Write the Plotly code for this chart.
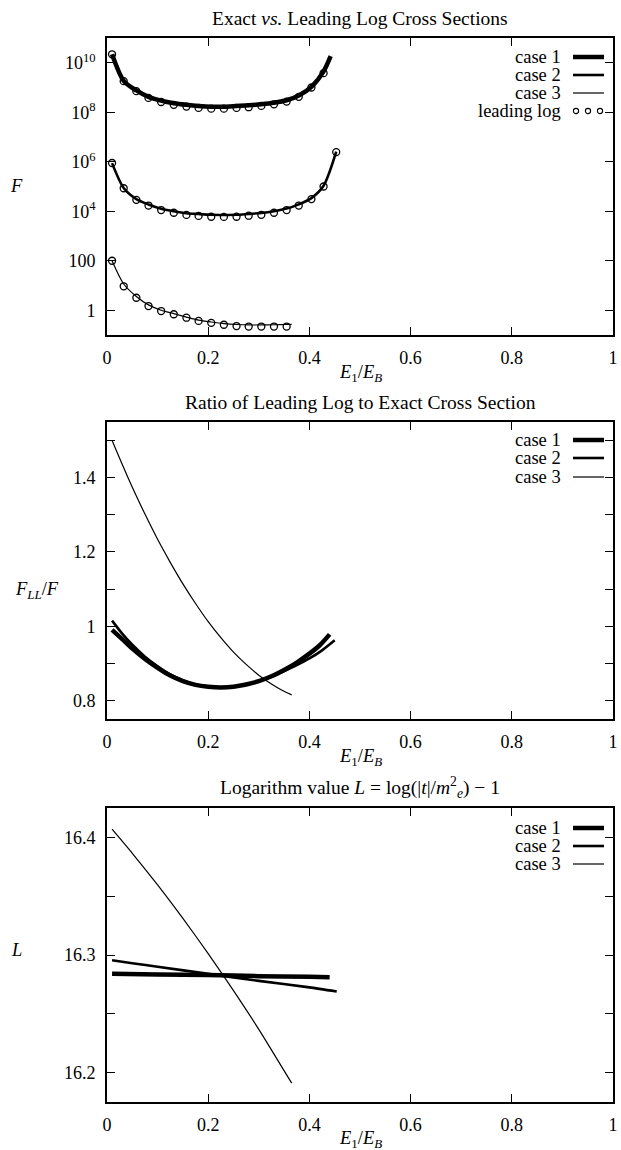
import plotly.graph_objects as go

# ---------------- data ----------------
# Top panel: leading-log points (x, F)
ll_x_1 = [0.01, 0.033, 0.058, 0.082, 0.107, 0.132, 0.157, 0.181, 0.206, 0.231,
          0.256, 0.280, 0.305, 0.330, 0.355, 0.379, 0.404, 0.428]
ll_F_1 = [2.2e10, 1.8e9, 7.1e8, 3.8e8, 2.6e8, 2.0e8, 1.7e8, 1.5e8, 1.4e8, 1.4e8,
          1.5e8, 1.6e8, 1.8e8, 2.1e8, 2.7e8, 4.2e8, 1.0e9, 3.8e9]
ll_x_2 = [0.01, 0.033, 0.058, 0.082, 0.107, 0.132, 0.157, 0.181, 0.206, 0.231,
          0.256, 0.280, 0.305, 0.330, 0.355, 0.379, 0.404, 0.428, 0.453]
ll_F_2 = [8.9e5, 8.5e4, 2.9e4, 1.7e4, 1.12e4, 8.7e3, 7.1e3, 6.5e3, 6.0e3, 5.9e3,
          6.0e3, 6.6e3, 7.2e3, 8.7e3, 1.12e4, 1.7e4, 3.1e4, 1.0e5, 2.45e6]
ll_x_3 = [0.01, 0.033, 0.058, 0.082, 0.107, 0.132, 0.157, 0.181, 0.206, 0.231,
          0.256, 0.280, 0.305, 0.330, 0.355]
ll_F_3 = [100, 9.3, 3.2, 1.48, 0.93, 0.69, 0.50, 0.37, 0.31, 0.26,
          0.23, 0.22, 0.22, 0.22, 0.22]

# Top panel: exact cross sections
ex_x_1 = [0.01, 0.033, 0.058, 0.082, 0.107, 0.132, 0.157, 0.181, 0.206, 0.231,
          0.256, 0.280, 0.305, 0.330, 0.355, 0.380, 0.405, 0.428, 0.442]
ex_F_1 = [2.22e10, 1.87e9, 7.6e8, 4.2e8, 2.95e8, 2.32e8, 2.0e8, 1.79e8, 1.67e8, 1.68e8,
          1.79e8, 1.9e8, 2.1e8, 2.42e8, 3.05e8, 4.9e8, 1.12e9, 4.5e9, 1.86e10]
ex_x_2 = [0.01, 0.033, 0.058, 0.082, 0.107, 0.132, 0.157, 0.181, 0.206, 0.231,
          0.256, 0.280, 0.305, 0.330, 0.355, 0.379, 0.404, 0.428, 0.453]
ex_F_2 = [8.8e5, 8.7e4, 3.1e4, 1.87e4, 1.26e4, 1.0e4, 8.3e3, 7.7e3, 7.2e3, 7.1e3,
          7.2e3, 7.8e3, 8.5e3, 1.0e4, 1.28e4, 1.9e4, 3.4e4, 1.07e5, 2.55e6]
ex_x_3 = [0.01, 0.033, 0.058, 0.082, 0.107, 0.132, 0.157, 0.181, 0.206, 0.231,
          0.256, 0.280, 0.305, 0.330, 0.355, 0.365]
ex_F_3 = [100, 11.5, 3.6, 1.65, 1.0, 0.73, 0.53, 0.40, 0.335, 0.29,
          0.265, 0.255, 0.255, 0.26, 0.265, 0.27]

# Middle panel: ratio F_LL / F
r_x_1 = [0.01, 0.03, 0.05, 0.075, 0.10, 0.125, 0.15, 0.175, 0.20, 0.225,
         0.25, 0.275, 0.30, 0.325, 0.35, 0.375, 0.40, 0.42, 0.44]
r_y_1 = [0.99, 0.965, 0.94, 0.912, 0.888, 0.867, 0.852, 0.842, 0.837, 0.835,
         0.837, 0.843, 0.852, 0.865, 0.882, 0.902, 0.926, 0.948, 0.978]
r_x_2 = [0.01, 0.03, 0.05, 0.075, 0.10, 0.125, 0.15, 0.175, 0.20, 0.225,
         0.25, 0.275, 0.30, 0.325, 0.35, 0.375, 0.40, 0.425, 0.45]
r_y_2 = [1.015, 0.98, 0.95, 0.918, 0.892, 0.87, 0.854, 0.843, 0.837, 0.835,
         0.837, 0.843, 0.852, 0.864, 0.879, 0.895, 0.913, 0.935, 0.962]
r_x_3 = [0.01, 0.03, 0.05, 0.075, 0.10, 0.125, 0.15, 0.175, 0.20, 0.225,
         0.25, 0.275, 0.30, 0.325, 0.345, 0.365]
r_y_3 = [1.50, 1.436, 1.374, 1.302, 1.234, 1.172, 1.114, 1.061, 1.012, 0.969,
         0.930, 0.897, 0.868, 0.844, 0.828, 0.815]

# Bottom panel: logarithm value L
L_x_1 = [0.01, 0.1, 0.2, 0.3, 0.4, 0.44]
L_y_1 = [16.284, 16.2835, 16.283, 16.282, 16.2815, 16.281]
L_x_2 = [0.01, 0.05, 0.1, 0.2, 0.3, 0.4, 0.454]
L_y_2 = [16.2955, 16.293, 16.290, 16.284, 16.278, 16.2725, 16.269]
L_x_3 = [0.01, 0.05, 0.1, 0.15, 0.2, 0.25, 0.3, 0.365]
L_y_3 = [16.407, 16.3865, 16.3596, 16.3311, 16.3012, 16.2697, 16.2368, 16.191]

x_ticks = [0, 0.2, 0.4, 0.6, 0.8, 1]
x_ticktext = ["0", "0.2", "0.4", "0.6", "0.8", "1"]
F_ticks = [1, 100, 1e4, 1e6, 1e8, 1e10]
F_ticktext = ["1", "100", "10<sup>4</sup>", "10<sup>6</sup>", "10<sup>8</sup>", "10<sup>10</sup>"]
R_ticks = [0.8, 1.0, 1.2, 1.4]
R_ticktext = ["0.8", "1", "1.2", "1.4"]
L_ticks = [16.2, 16.3, 16.4]
L_ticktext = ["16.2", "16.3", "16.4"]

case_names = ["case 1", "case 2", "case 3"]
case_widths = [4.5, 2.6, 1.2]

# ---------------- figure ----------------
W, H = 621, 1150
ML, MR = 107, 8
FONT = "Liberation Serif"
BLACK = "black"
TXT = 18.5


def py(p):  # pixel row -> paper y
    return 1 - p / H


def px(p):  # pixel column -> paper x
    return (p - ML) / (W - ML - MR)


fig = go.Figure()

for (xs, ys), w, n in zip([(ex_x_1, ex_F_1), (ex_x_2, ex_F_2), (ex_x_3, ex_F_3)],
                          case_widths, case_names):
    fig.add_trace(go.Scatter(x=xs, y=ys, mode="lines", name=n,
                             line=dict(color=BLACK, width=w, shape="spline", smoothing=0.8),
                             xaxis="x", yaxis="y", showlegend=False))
for xs, ys in [(ll_x_1, ll_F_1), (ll_x_2, ll_F_2), (ll_x_3, ll_F_3)]:
    fig.add_trace(go.Scatter(x=xs, y=ys, mode="markers", name="leading log",
                             marker=dict(symbol="circle-open", size=7, color=BLACK,
                                         line=dict(width=1.3, color=BLACK)),
                             xaxis="x", yaxis="y", showlegend=False))

for (xs, ys), w, n in zip([(r_x_1, r_y_1), (r_x_2, r_y_2), (r_x_3, r_y_3)], case_widths, case_names):
    fig.add_trace(go.Scatter(x=xs, y=ys, mode="lines", name=n,
                             line=dict(color=BLACK, width=w, shape="spline", smoothing=0.8),
                             xaxis="x2", yaxis="y2", showlegend=False))

for (xs, ys), w, n in zip([(L_x_1, L_y_1), (L_x_2, L_y_2), (L_x_3, L_y_3)], case_widths, case_names):
    fig.add_trace(go.Scatter(x=xs, y=ys, mode="lines", name=n,
                             line=dict(color=BLACK, width=w, shape="spline", smoothing=0.6),
                             xaxis="x3", yaxis="y3", showlegend=False))

# panel pixel extents (top, bottom)
panels = [(38, 335), (422, 719), (808, 1102)]

axis_common = dict(showline=True, linecolor=BLACK, linewidth=1.6, mirror="ticks",
                   ticks="inside", ticklen=8, tickwidth=1.1, tickcolor=BLACK,
                   showgrid=False, zeroline=False,
                   tickfont=dict(family=FONT, size=18, color=BLACK))
minor_common = dict(ticks="inside", ticklen=8, tickwidth=1.1, tickcolor=BLACK, showgrid=False)

layout = dict(width=W, height=H, margin=dict(l=ML, r=MR, t=0, b=0),
              paper_bgcolor="white", plot_bgcolor="white",
              font=dict(family=FONT, size=TXT, color=BLACK), showlegend=False)

for i in range(3):
    sfx = "" if i == 0 else str(i + 1)
    layout["xaxis" + sfx] = dict(axis_common, domain=[0, 1], range=[0, 1],
                                 tickvals=x_ticks, ticktext=x_ticktext,
                                 anchor="y" + sfx, ticklabelstandoff=6)
layout["yaxis"] = dict(axis_common, domain=[py(panels[0][1]), py(panels[0][0])], type="log",
                       range=[-1, 11], tickvals=F_ticks, ticktext=F_ticktext, anchor="x",
                       ticklabelstandoff=6)
layout["yaxis2"] = dict(axis_common, domain=[py(panels[1][1]), py(panels[1][0])],
                        range=[0.75, 1.55], tickvals=R_ticks, ticktext=R_ticktext,
                        minor=dict(minor_common, dtick=0.1, tick0=0.8),
                        anchor="x2", ticklabelstandoff=6)
layout["yaxis3"] = dict(axis_common, domain=[py(panels[2][1]), py(panels[2][0])],
                        range=[16.175, 16.425], tickvals=L_ticks, ticktext=L_ticktext,
                        minor=dict(minor_common, dtick=0.05, tick0=16.2),
                        anchor="x3", ticklabelstandoff=6)
fig.update_layout(**layout)

ann = []
shapes = []
titles = ["Exact <i>vs.</i> Leading Log Cross Sections",
          "Ratio of Leading Log to Exact Cross Section",
          "Logarithm value <i>L</i> = log(|<i>t</i>|/<i>m</i><sup>2</sup><sub><i>e</i></sub>) − 1"]
title_y = [19, 402, 787]
for t, yy in zip(titles, title_y):
    ann.append(dict(text=t, x=0.5, y=py(yy), xref="paper", yref="paper",
                    xanchor="center", yanchor="middle", showarrow=False,
                    font=dict(family=FONT, size=19.5)))
for yy in [373, 757, 1139]:
    ann.append(dict(text="<i>E</i><sub>1</sub>/<i>E</i><sub><i>B</i></sub>", x=0.5, y=py(yy),
                    xref="paper", yref="paper", xanchor="center", yanchor="middle",
                    showarrow=False, font=dict(family=FONT, size=TXT)))
for txt, xx, yy in [("<i>F</i>", 16, 186), ("<i>F</i><sub><i>LL</i></sub>/<i>F</i>", 37, 590),
                    ("<i>L</i>", 16, 950)]:
    ann.append(dict(text=txt, x=px(xx), y=py(yy), xref="paper", yref="paper",
                    xanchor="center", yanchor="middle", showarrow=False,
                    font=dict(family=FONT, size=TXT)))

# custom legends: text right-aligned, line sample on the right
legend_rows = [[57, 75, 93], [440, 458, 477], [828, 846, 864]]
for rows in legend_rows:
    for yy, n, w in zip(rows, case_names, case_widths):
        ann.append(dict(text=n, x=px(563), y=py(yy), xref="paper", yref="paper",
                        xanchor="right", yanchor="middle", showarrow=False,
                        font=dict(family=FONT, size=TXT)))
        shapes.append(dict(type="line", xref="paper", yref="paper",
                           x0=px(573), x1=px(604), y0=py(yy), y1=py(yy),
                           line=dict(color=BLACK, width=w)))
ann.append(dict(text="leading log", x=px(563), y=py(111), xref="paper", yref="paper",
                xanchor="right", yanchor="middle", showarrow=False,
                font=dict(family=FONT, size=TXT)))
for cx in [576, 588, 600]:
    shapes.append(dict(type="circle", xref="paper", yref="paper",
                       x0=px(cx - 2.6), x1=px(cx + 2.6), y0=py(111 + 2.6), y1=py(111 - 2.6),
                       line=dict(color=BLACK, width=1.1)))

fig.update_layout(annotations=ann, shapes=shapes)
fig.write_html("out.html", config={"displayModeBar": False},
               post_script="document.body.style.margin='0';document.body.style.overflow='hidden';")
